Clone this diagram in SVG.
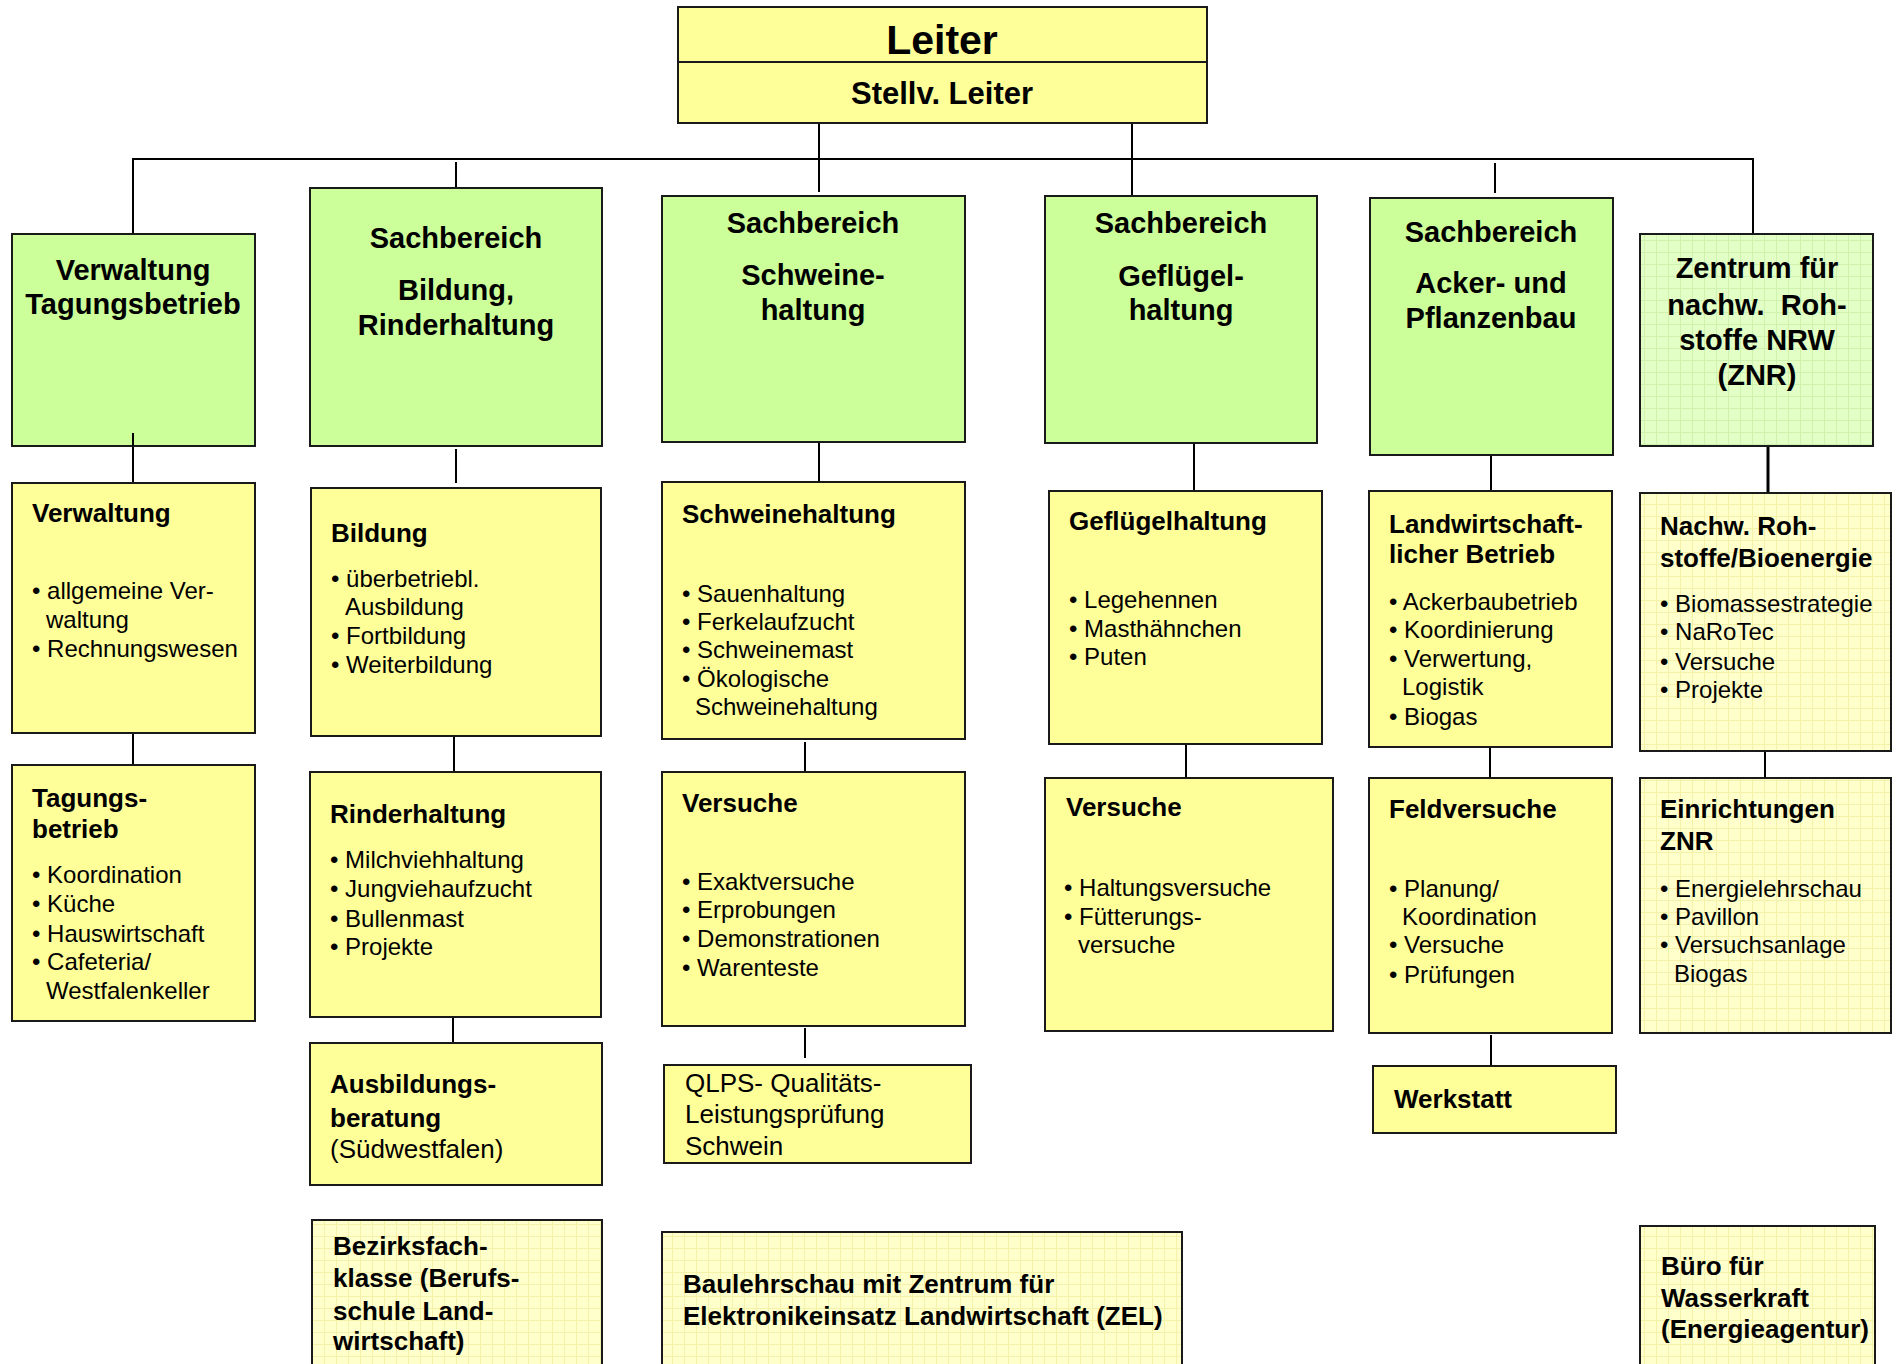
<svg xmlns="http://www.w3.org/2000/svg" width="1898" height="1364" viewBox="0 0 1898 1364">
<defs>
<pattern id="gridG" width="12" height="12" patternUnits="userSpaceOnUse">
<rect width="12" height="12" fill="#E2FFC6"/>
<path d="M0 0.5H12M0.5 0V12" stroke="#CFF2AE" stroke-width="1"/>
</pattern>
<pattern id="gridY" width="12" height="12" patternUnits="userSpaceOnUse">
<rect width="12" height="12" fill="#FFFFCC"/>
<path d="M0 0.5H12M0.5 0V12" stroke="#F4F2A8" stroke-width="1"/>
</pattern>
<style>
.box{stroke:#1a1a1a;stroke-width:2}
.green{fill:#CCFF99}
.yellow{fill:#FFFF99}
.ggrid{fill:url(#gridG)}
.ygrid{fill:url(#gridY)}
text{font-family:"Liberation Sans",Arial,Helvetica,sans-serif;fill:#000}
.h1{font-size:41px;font-weight:bold;text-anchor:middle}
.h2{font-size:31px;font-weight:bold;text-anchor:middle}
.gh{font-size:29px;font-weight:bold;text-anchor:middle}
.yh{font-size:26px;font-weight:bold}
.li{font-size:24px}
.rg{font-size:26px}
.con{stroke:#000;stroke-width:2;fill:none}
</style>
</defs>
<rect width="1898" height="1364" fill="#fff"/>

<g id="connectors">
<path class="con" d="M133 234V159H1753V234"/>
<path class="con" d="M456 162V192"/>
<path class="con" d="M819 123V192"/>
<path class="con" d="M1132 123V202"/>
<path class="con" d="M1495 163V193"/>
<path class="con" d="M133 433V483"/>
<path class="con" d="M133 733V765"/>
<path class="con" d="M456 449V483"/>
<path class="con" d="M454 736V772"/>
<path class="con" d="M453 1018V1048"/>
<path class="con" d="M819 443V490"/>
<path class="con" d="M805 742V772"/>
<path class="con" d="M805 1028V1058"/>
<path class="con" d="M1194 442V498"/>
<path class="con" d="M1186 744V778"/>
<path class="con" d="M1491 446V495"/>
<path class="con" d="M1490 747V778"/>
<path class="con" d="M1491 1035V1066"/>
<path class="con" d="M1768 438V498" style="stroke-width:3"/>
<path class="con" d="M1765 747V778"/>
</g>

<g id="leiter">
<rect class="box yellow" x="678" y="7" width="529" height="116"/>
<line x1="678" y1="62" x2="1207" y2="62" stroke="#1a1a1a" stroke-width="2"/>
<text class="h1" x="942" y="54">Leiter</text>
<text class="h2" x="942" y="104">Stellv. Leiter</text>
</g>

<g id="sb-verwaltung-tagung">
<rect class="box green" x="12" y="234" width="243" height="212"/>
<text class="gh"><tspan x="133" y="280">Verwaltung</tspan><tspan x="133" y="314">Tagungsbetrieb</tspan></text>
</g>
<path class="con" d="M133 433V446"/>

<g id="sb-bildung">
<rect class="box green" x="310" y="188" width="292" height="258"/>
<text class="gh"><tspan x="456" y="248">Sachbereich</tspan><tspan x="456" y="300">Bildung,</tspan><tspan x="456" y="335">Rinderhaltung</tspan></text>
</g>

<g id="sb-schweine">
<rect class="box green" x="662" y="196" width="303" height="246"/>
<text class="gh"><tspan x="813" y="233">Sachbereich</tspan><tspan x="813" y="285">Schweine-</tspan><tspan x="813" y="320">haltung</tspan></text>
</g>

<g id="sb-gefluegel">
<rect class="box green" x="1045" y="196" width="272" height="247"/>
<text class="gh"><tspan x="1181" y="233">Sachbereich</tspan><tspan x="1181" y="286">Geflügel-</tspan><tspan x="1181" y="320">haltung</tspan></text>
</g>

<g id="sb-acker">
<rect class="box green" x="1370" y="198" width="243" height="257"/>
<text class="gh"><tspan x="1491" y="242">Sachbereich</tspan><tspan x="1491" y="293">Acker- und</tspan><tspan x="1491" y="328">Pflanzenbau</tspan></text>
</g>

<g id="znr">
<rect class="box ggrid" x="1640" y="234" width="233" height="212"/>
<text class="gh"><tspan x="1757" y="278">Zentrum für</tspan><tspan x="1757" y="315">nachw.&#160; Roh-</tspan><tspan x="1757" y="350">stoffe NRW</tspan><tspan x="1757" y="385">(ZNR)</tspan></text>
</g>

<g id="verwaltung">
<rect class="box yellow" x="12" y="483" width="243" height="250"/>
<text class="yh" x="32" y="522">Verwaltung</text>
<text class="li"><tspan x="32" y="599">• allgemeine Ver-</tspan><tspan x="46" y="628">waltung</tspan><tspan x="32" y="657">• Rechnungswesen</tspan></text>
</g>

<g id="tagungsbetrieb">
<rect class="box yellow" x="12" y="765" width="243" height="256"/>
<text class="yh"><tspan x="32" y="807">Tagungs-</tspan><tspan x="32" y="838">betrieb</tspan></text>
<text class="li"><tspan x="32" y="883">• Koordination</tspan><tspan x="32" y="912">• Küche</tspan><tspan x="32" y="942">• Hauswirtschaft</tspan><tspan x="32" y="970">• Cafeteria/</tspan><tspan x="46" y="999">Westfalenkeller</tspan></text>
</g>

<g id="bildung">
<rect class="box yellow" x="311" y="488" width="290" height="248"/>
<text class="yh" x="331" y="542">Bildung</text>
<text class="li"><tspan x="331" y="587">• überbetriebl.</tspan><tspan x="345" y="615">Ausbildung</tspan><tspan x="331" y="644">• Fortbildung</tspan><tspan x="331" y="673">• Weiterbildung</tspan></text>
</g>

<g id="rinderhaltung">
<rect class="box yellow" x="310" y="772" width="291" height="245"/>
<text class="yh" x="330" y="823">Rinderhaltung</text>
<text class="li"><tspan x="330" y="868">• Milchviehhaltung</tspan><tspan x="330" y="897">• Jungviehaufzucht</tspan><tspan x="330" y="927">• Bullenmast</tspan><tspan x="330" y="955">• Projekte</tspan></text>
</g>

<g id="ausbildungsberatung">
<rect class="box yellow" x="310" y="1043" width="292" height="142"/>
<text class="yh"><tspan x="330" y="1093">Ausbildungs-</tspan><tspan x="330" y="1127">beratung</tspan></text>
<text class="rg" x="330" y="1158">(Südwestfalen)</text>
</g>

<g id="bezirksfachklasse">
<rect class="box ygrid" x="312" y="1220" width="290" height="160"/>
<text class="yh"><tspan x="333" y="1255">Bezirksfach-</tspan><tspan x="333" y="1287">klasse (Berufs-</tspan><tspan x="333" y="1320">schule Land-</tspan><tspan x="333" y="1350">wirtschaft)</tspan></text>
</g>

<g id="schweinehaltung">
<rect class="box yellow" x="662" y="482" width="303" height="257"/>
<text class="yh" x="682" y="523">Schweinehaltung</text>
<text class="li"><tspan x="682" y="602">• Sauenhaltung</tspan><tspan x="682" y="630">• Ferkelaufzucht</tspan><tspan x="682" y="658">• Schweinemast</tspan><tspan x="682" y="687">• Ökologische</tspan><tspan x="695" y="715">Schweinehaltung</tspan></text>
</g>

<g id="versuche-schwein">
<rect class="box yellow" x="662" y="772" width="303" height="254"/>
<text class="yh" x="682" y="812">Versuche</text>
<text class="li"><tspan x="682" y="890">• Exaktversuche</tspan><tspan x="682" y="918">• Erprobungen</tspan><tspan x="682" y="947">• Demonstrationen</tspan><tspan x="682" y="976">• Warenteste</tspan></text>
</g>

<g id="qlps">
<rect class="box yellow" x="664" y="1065" width="307" height="98"/>
<text class="rg"><tspan x="685" y="1092">QLPS- Qualitäts-</tspan><tspan x="685" y="1123">Leistungsprüfung</tspan><tspan x="685" y="1155">Schwein</tspan></text>
</g>

<g id="baulehrschau">
<rect class="box ygrid" x="662" y="1232" width="520" height="150"/>
<text class="yh"><tspan x="683" y="1293">Baulehrschau mit Zentrum für</tspan><tspan x="683" y="1325">Elektronikeinsatz Landwirtschaft (ZEL)</tspan></text>
</g>

<g id="gefluegelhaltung">
<rect class="box yellow" x="1049" y="491" width="273" height="253"/>
<text class="yh" x="1069" y="530">Geflügelhaltung</text>
<text class="li"><tspan x="1069" y="608">• Legehennen</tspan><tspan x="1069" y="637">• Masthähnchen</tspan><tspan x="1069" y="665">• Puten</tspan></text>
</g>

<g id="versuche-gefluegel">
<rect class="box yellow" x="1045" y="778" width="288" height="253"/>
<text class="yh" x="1066" y="816">Versuche</text>
<text class="li"><tspan x="1064" y="896">• Haltungsversuche</tspan><tspan x="1064" y="925">• Fütterungs-</tspan><tspan x="1078" y="953">versuche</tspan></text>
</g>

<g id="landwirtschaftlicher-betrieb">
<rect class="box yellow" x="1369" y="491" width="243" height="256"/>
<text class="yh"><tspan x="1389" y="533">Landwirtschaft-</tspan><tspan x="1389" y="563">licher Betrieb</tspan></text>
<text class="li"><tspan x="1389" y="610">• Ackerbaubetrieb</tspan><tspan x="1389" y="638">• Koordinierung</tspan><tspan x="1389" y="667">• Verwertung,</tspan><tspan x="1402" y="695">Logistik</tspan><tspan x="1389" y="725">• Biogas</tspan></text>
</g>

<g id="feldversuche">
<rect class="box yellow" x="1369" y="778" width="243" height="255"/>
<text class="yh" x="1389" y="818">Feldversuche</text>
<text class="li"><tspan x="1389" y="897">• Planung/</tspan><tspan x="1402" y="925">Koordination</tspan><tspan x="1389" y="953">• Versuche</tspan><tspan x="1389" y="983">• Prüfungen</tspan></text>
</g>

<g id="werkstatt">
<rect class="box yellow" x="1373" y="1066" width="243" height="67"/>
<text class="yh" x="1394" y="1108">Werkstatt</text>
</g>

<g id="nachw-rohstoffe">
<rect class="box ygrid" x="1640" y="493" width="251" height="258"/>
<text class="yh"><tspan x="1660" y="535">Nachw. Roh-</tspan><tspan x="1660" y="567">stoffe/Bioenergie</tspan></text>
<text class="li"><tspan x="1660" y="612">• Biomassestrategie</tspan><tspan x="1660" y="640">• NaRoTec</tspan><tspan x="1660" y="670">• Versuche</tspan><tspan x="1660" y="698">• Projekte</tspan></text>
</g>

<g id="einrichtungen-znr">
<rect class="box ygrid" x="1640" y="778" width="251" height="255"/>
<text class="yh"><tspan x="1660" y="818">Einrichtungen</tspan><tspan x="1660" y="850">ZNR</tspan></text>
<text class="li"><tspan x="1660" y="897">• Energielehrschau</tspan><tspan x="1660" y="925">• Pavillon</tspan><tspan x="1660" y="953">• Versuchsanlage</tspan><tspan x="1674" y="982">Biogas</tspan></text>
</g>

<g id="buero-wasserkraft">
<rect class="box ygrid" x="1640" y="1226" width="235" height="160"/>
<text class="yh"><tspan x="1661" y="1275">Büro für</tspan><tspan x="1661" y="1307">Wasserkraft</tspan><tspan x="1661" y="1338">(Energieagentur)</tspan></text>
</g>
</svg>
